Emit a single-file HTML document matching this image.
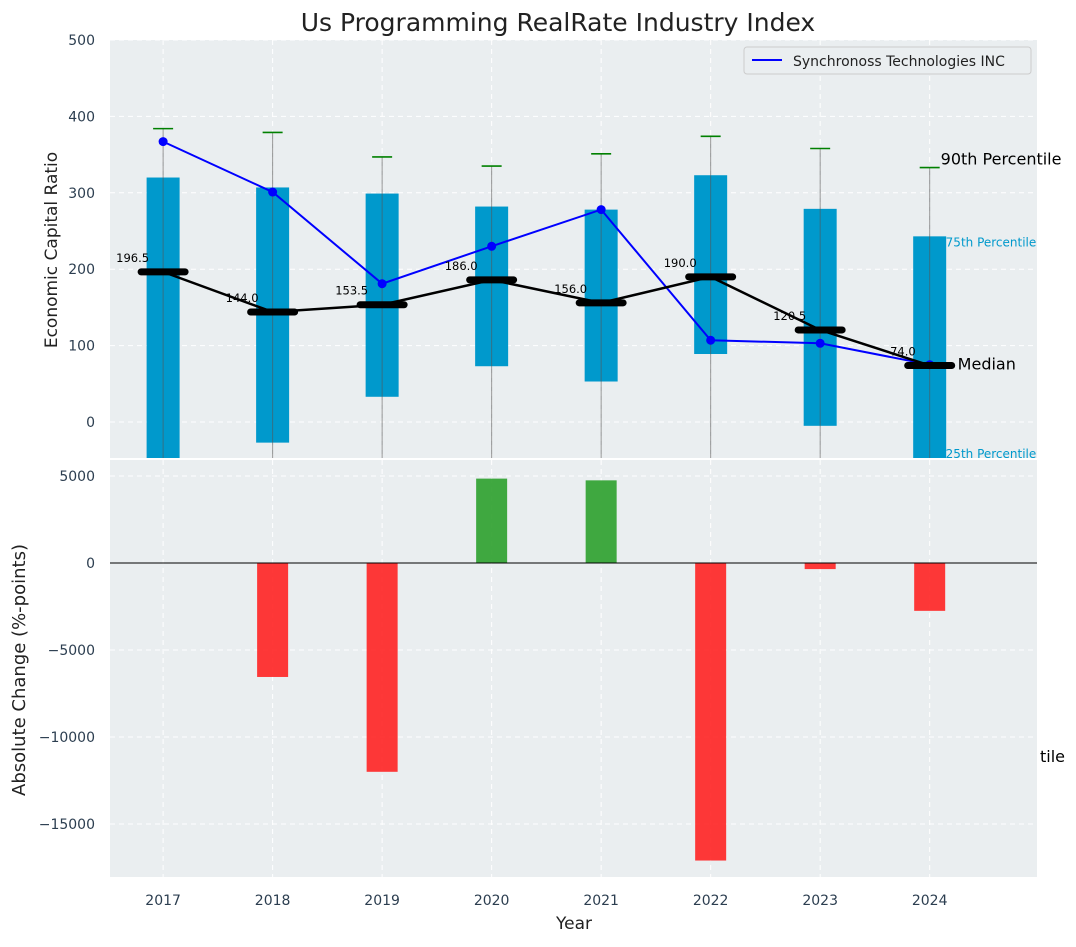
<!DOCTYPE html>
<html><head><meta charset="utf-8"><style>
body{margin:0;background:#fff;font-family:"Liberation Sans","DejaVu Sans",sans-serif}
svg text{font-family:"DejaVu Sans","Liberation Sans",sans-serif}
</style></head><body>
<svg id="c" width="1076" height="942" xmlns="http://www.w3.org/2000/svg"></svg>
<script>
const years=[2017,2018,2019,2020,2021,2022,2023,2024];
const q1=[-60,-27,33,73,53,89,-5,-60];
const q3=[320,307,299,282,278,323,279,243];
const p90=[384,379,347,335,351,374,358,333];
const medians=[196.5,144.0,153.5,186.0,156.0,190.0,120.5,74.0];
const company=[367,301,181,230,278,107,103,75];
const changes=[0,-6550,-12000,4850,4750,-17100,-350,-2750];
const topTicks=[0,100,200,300,400,500];
const botTicks=[5000,0,-5000,-10000,-15000];

const NS="http://www.w3.org/2000/svg";
const svg=document.getElementById('c');
function el(t,a,txt){const e=document.createElementNS(NS,t);for(const k in a)e.setAttribute(k,a[k]);if(txt!==undefined)e.textContent=txt;svg.appendChild(e);return e;}
const L=110,R=1037;
const x=v=>L+(v-2016.515)/(2024.98-2016.515)*(R-L);
const T0=40,T1=458;const yt=v=>422-v*0.764;
const B0=460,B1=877;const yb=v=>563-v*0.0174;

let e=el('rect',{x:L,y:T0,width:R-L,height:T1-T0,fill:'#eaeef0'});

e=el('rect',{x:L,y:B0,width:R-L,height:B1-B0,fill:'#eaeef0'});


years.forEach(yr=>{
 el('line',{x1:x(yr),x2:x(yr),y1:T0,y2:T1,stroke:'#fff','stroke-dasharray':'5,4','stroke-width':1});
 el('line',{x1:x(yr),x2:x(yr),y1:B0,y2:B1,stroke:'#fff','stroke-dasharray':'5,4','stroke-width':1});
 e=el('text',{x:x(yr),y:905,'text-anchor':'middle','font-size':14,fill:'#2c3e50'},yr);
 
});
topTicks.forEach(v=>{
 el('line',{x1:L,x2:R,y1:yt(v),y2:yt(v),stroke:'#fff','stroke-dasharray':'5,4'});
 e=el('text',{x:95,y:yt(v)+5,'text-anchor':'end','font-size':14,fill:'#2c3e50'},v);
 
});
botTicks.forEach(v=>{
 el('line',{x1:L,x2:R,y1:yb(v),y2:yb(v),stroke:'#fff','stroke-dasharray':'5,4'});
 e=el('text',{x:95,y:yb(v)+5,'text-anchor':'end','font-size':14,fill:'#2c3e50'},v<0?'\u2212'+(-v):v);
 
});

const cp=el('clipPath',{id:'tc'});const cr=document.createElementNS(NS,'rect');
cr.setAttribute('x',L);cr.setAttribute('y',T0);cr.setAttribute('width',R-L);cr.setAttribute('height',T1-T0);cp.appendChild(cr);
const g=el('g',{'clip-path':'url(#tc)'});
function gel(t,a){const n=el(t,a);g.appendChild(n);return n;}

years.forEach((yr,i)=>{
 const cx=x(yr);
 e=gel('rect',{x:cx-16.5,y:yt(q3[i]),width:33,height:yt(q1[i])-yt(q3[i]),fill:'#0099cc'});
 
 e=gel('line',{x1:cx,x2:cx,y1:yt(p90[i]),y2:T1+5,stroke:'#555','stroke-opacity':0.6,'stroke-width':1});
 
 e=gel('line',{x1:cx-10,x2:cx+10,y1:yt(p90[i]),y2:yt(p90[i]),stroke:'green','stroke-width':1.6});
 
});
e=gel('polyline',{points:years.map((yr,i)=>x(yr)+','+yt(company[i])).join(' '),fill:'none',stroke:'blue','stroke-width':2});

years.forEach((yr,i)=>{e=gel('circle',{cx:x(yr),cy:yt(company[i]),r:4.5,fill:'blue'});
 });
e=gel('polyline',{points:years.map((yr,i)=>x(yr)+','+yt(medians[i])).join(' '),fill:'none',stroke:'#000','stroke-width':2.5});

years.forEach((yr,i)=>{
 e=gel('line',{x1:x(yr)-22,x2:x(yr)+22,y1:yt(medians[i]),y2:yt(medians[i]),stroke:'#000','stroke-width':7,'stroke-linecap':'round'});
 
 e=el('text',{x:x(yr)-14,y:yt(medians[i])-10,'text-anchor':'end','font-size':11.5,fill:'#000'},medians[i].toFixed(1));
 
});
const lx=x(2024);
e=el('text',{x:lx+11,y:yt(p90[7])-3,'font-size':16,fill:'#000'},'90th Percentile');
e=el('text',{x:lx+16,y:yt(q3[7])+10,'font-size':12,fill:'#0099cc'},'75th Percentile');
e=el('text',{x:lx+28,y:yt(medians[7])+4,'font-size':16,fill:'#000'},'Median');
e=el('text',{x:lx+16,y:458,'font-size':12,fill:'#0099cc'},'25th Percentile');
e=el('text',{x:1040,y:762,'font-size':16,fill:'#000'},'tile');

e=el('rect',{x:744,y:47,width:287,height:27,fill:'#eaeef0',stroke:'#ccc',rx:3});
el('line',{x1:752,x2:782,y1:60,y2:60,stroke:'blue','stroke-width':2});
e=el('text',{x:793,y:66,'font-size':14,fill:'#222'},'Synchronoss Technologies INC');

years.forEach((yr,i)=>{
 const v=changes[i];if(v===0)return;
 e=el('rect',{x:x(yr)-15.5,y:Math.min(yb(v),yb(0)),width:31,height:Math.abs(yb(v)-yb(0)),fill:v>0?'#2ca02c':'#ff2222','fill-opacity':0.9});
 
});
el('line',{x1:L,x2:R,y1:yb(0),y2:yb(0),stroke:'#000','stroke-width':1});

e=el('text',{x:558,y:31,'text-anchor':'middle','font-size':25,fill:'#222'},'Us Programming RealRate Industry Index');
e=el('text',{x:57,y:250,'text-anchor':'middle','font-size':17,fill:'#222',transform:'rotate(-90 57 250)'},'Economic Capital Ratio');
e=el('text',{x:25,y:670,'text-anchor':'middle','font-size':18,fill:'#222',transform:'rotate(-90 25 670)'},'Absolute Change (%-points)');
e=el('text',{x:574,y:929,'text-anchor':'middle','font-size':17,fill:'#222'},'Year');
</script>
</body></html>
